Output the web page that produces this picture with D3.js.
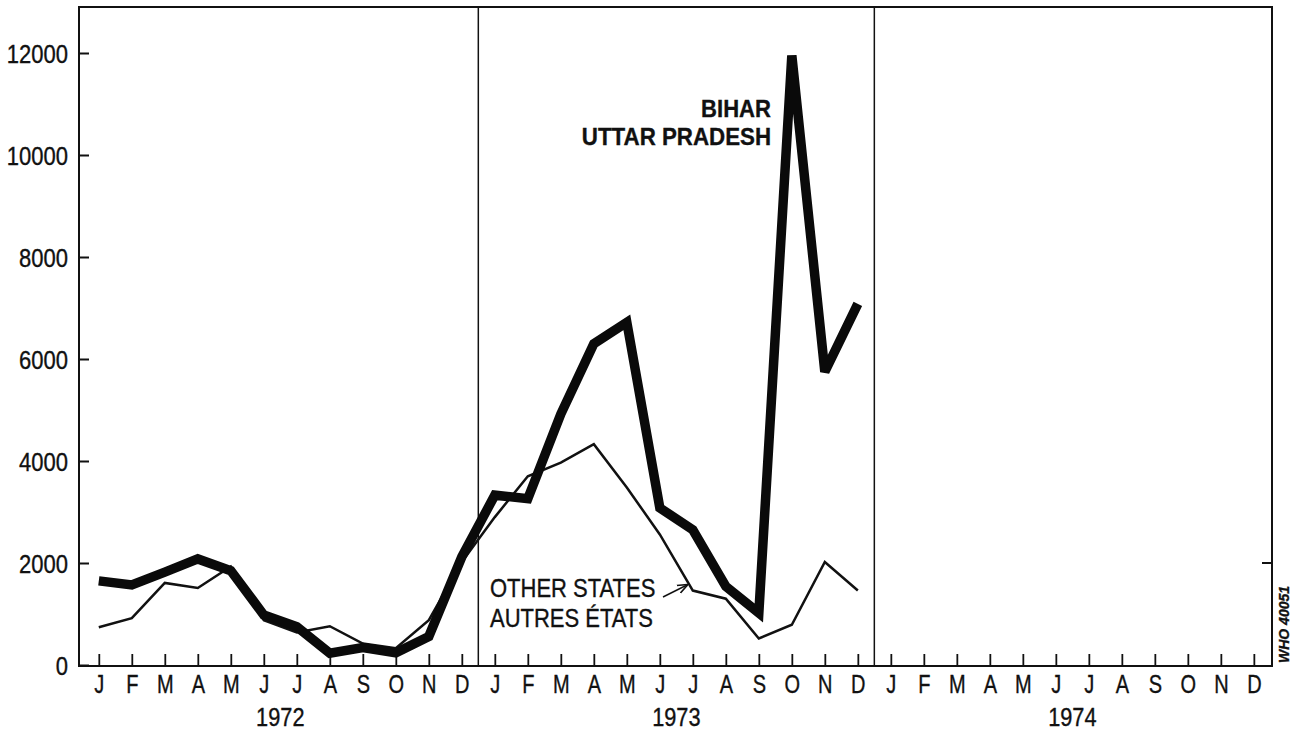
<!DOCTYPE html>
<html><head><meta charset="utf-8">
<script src="https://cdn.jsdelivr.net/npm/d3@7/dist/d3.min.js"></script>
<style>
html,body{margin:0;padding:0;background:#fff;}
svg text{font-family:"Liberation Sans",Arial,sans-serif;fill:#111;stroke:#111;stroke-width:0.35px;}
</style></head>
<body><svg id="c" width="1294" height="732"></svg>
<script>
const years = ["1972","1973","1974"];
const monthLetters = ["J","F","M","A","M","J","J","A","S","O","N","D"];
const yTicks = [0,2000,4000,6000,8000,10000,12000];
// Bihar + Uttar Pradesh, Jan 1972 - Dec 1973
const biharUP = [1650,1570,1820,2080,1850,980,750,230,340,240,560,2120,
                 3330,3260,4920,6300,6720,3080,2650,1540,1020,11950,5750,7080];
// Other states, Jan 1972 - Dec 1973
const otherStates = [740,920,1610,1510,1930,880,640,760,420,330,880,2020,
                     2900,3700,3970,4330,3480,2560,1460,1300,520,790,2020,1460];

const svg = d3.select("#c");
const months = d3.range(36);
const x = d3.scaleLinear().domain([-0.6, 35.55]).range([79, 1272]);
const y = d3.scaleLinear().domain([0, 12000]).range([665, 53]);
const frameTop = 7, frameBottom = 666;

// horizontally condense text (reference uses a condensed typeface)
function squeeze(sel, sx){
  sel.each(function(){
    const t = d3.select(this);
    const x0 = +t.attr("x") || 0;
    t.attr("x", x0/sx).attr("transform", `scale(${sx},1)`);
  });
}

// frame
svg.append("rect").attr("x",79).attr("y",frameTop).attr("width",1272-79).attr("height",frameBottom-frameTop)
  .attr("fill","none").attr("stroke","#111").attr("stroke-width",2);
// year dividers
[11.5,23.5].forEach(v=>{
  svg.append("line").attr("x1",x(v)).attr("x2",x(v)).attr("y1",frameTop).attr("y2",frameBottom)
    .attr("stroke","#111").attr("stroke-width",1.5);
});

// y axis
const yAxis = d3.axisLeft(y).tickValues(yTicks).tickSize(-10).tickPadding(11).tickFormat(d3.format("d"));
const gy = svg.append("g").attr("transform","translate(79,0)").call(yAxis);
gy.select(".domain").remove();
gy.selectAll(".tick line").attr("stroke","#111").attr("stroke-width",2);
gy.selectAll(".tick text").attr("font-size",25).attr("dy","0.36em");
squeeze(gy.selectAll(".tick text"), 0.88);
// right-side tick mark at 2000
svg.append("line").attr("x1",1272).attr("x2",1262).attr("y1",y(2000)).attr("y2",y(2000))
  .attr("stroke","#111").attr("stroke-width",2);

// x axis (months)
const xAxis = d3.axisBottom(x).tickValues(months).tickSize(-12).tickPadding(9)
  .tickFormat(i=>monthLetters[i%12]);
const gx = svg.append("g").attr("transform",`translate(0,${frameBottom})`).call(xAxis);
gx.select(".domain").remove();
gx.selectAll(".tick line").attr("stroke","#111").attr("stroke-width",1.8);
gx.selectAll(".tick text").attr("font-size",25).attr("dy","0.71em");
squeeze(gx.selectAll(".tick text"), 0.8);

// year labels
const yl = svg.selectAll(".yr").data(years).join("text").attr("class","yr")
  .attr("x",(d,i)=>x(5.5+12*i)).attr("y",726).attr("text-anchor","middle")
  .attr("font-size",25).text(d=>d);
squeeze(yl, 0.87);

const line = d3.line().x((d,i)=>x(i)).y(d=>y(d)).curve(d3.curveLinear);

svg.append("path").datum(otherStates).attr("d",line)
  .attr("fill","none").attr("stroke","#111").attr("stroke-width",2.5).attr("stroke-linejoin","miter");
svg.append("path").datum(biharUP).attr("d",line)
  .attr("fill","none").attr("stroke","#0a0a0a").attr("stroke-width",9.5).attr("stroke-linejoin","miter")
  .attr("stroke-miterlimit",3);

// annotations
const a1 = svg.append("text").attr("x",771).attr("y",117).attr("text-anchor","end")
  .attr("font-size",24).attr("font-weight","bold").text("BIHAR");
const a2 = svg.append("text").attr("x",771).attr("y",145).attr("text-anchor","end")
  .attr("font-size",24).attr("font-weight","bold").text("UTTAR PRADESH");
squeeze(a1, 0.92); squeeze(a2, 0.93);
const o1 = svg.append("text").attr("x",490).attr("y",597).attr("font-size",25).text("OTHER STATES");
const o2 = svg.append("text").attr("x",490).attr("y",627).attr("font-size",25).text("AUTRES ÉTATS");
squeeze(o1, 0.88); squeeze(o2, 0.88);

// pointer arrow to other-states line
svg.append("defs").append("marker").attr("id","ah").attr("viewBox","0 0 10 10")
  .attr("refX",9).attr("refY",5).attr("markerWidth",7).attr("markerHeight",7).attr("orient","auto")
  .append("path").attr("d","M0,1 L10,5 L0,9").attr("fill","none").attr("stroke","#111").attr("stroke-width",1.6);
svg.append("line").attr("x1",663).attr("y1",597).attr("x2",687).attr("y2",585)
  .attr("stroke","#111").attr("stroke-width",1.5).attr("marker-end","url(#ah)");

// catalogue number
svg.append("text").attr("transform","translate(1289,663) rotate(-90)")
  .attr("font-size",14).attr("font-weight","bold").attr("font-style","italic").text("WHO 40051");
</script></body></html>
